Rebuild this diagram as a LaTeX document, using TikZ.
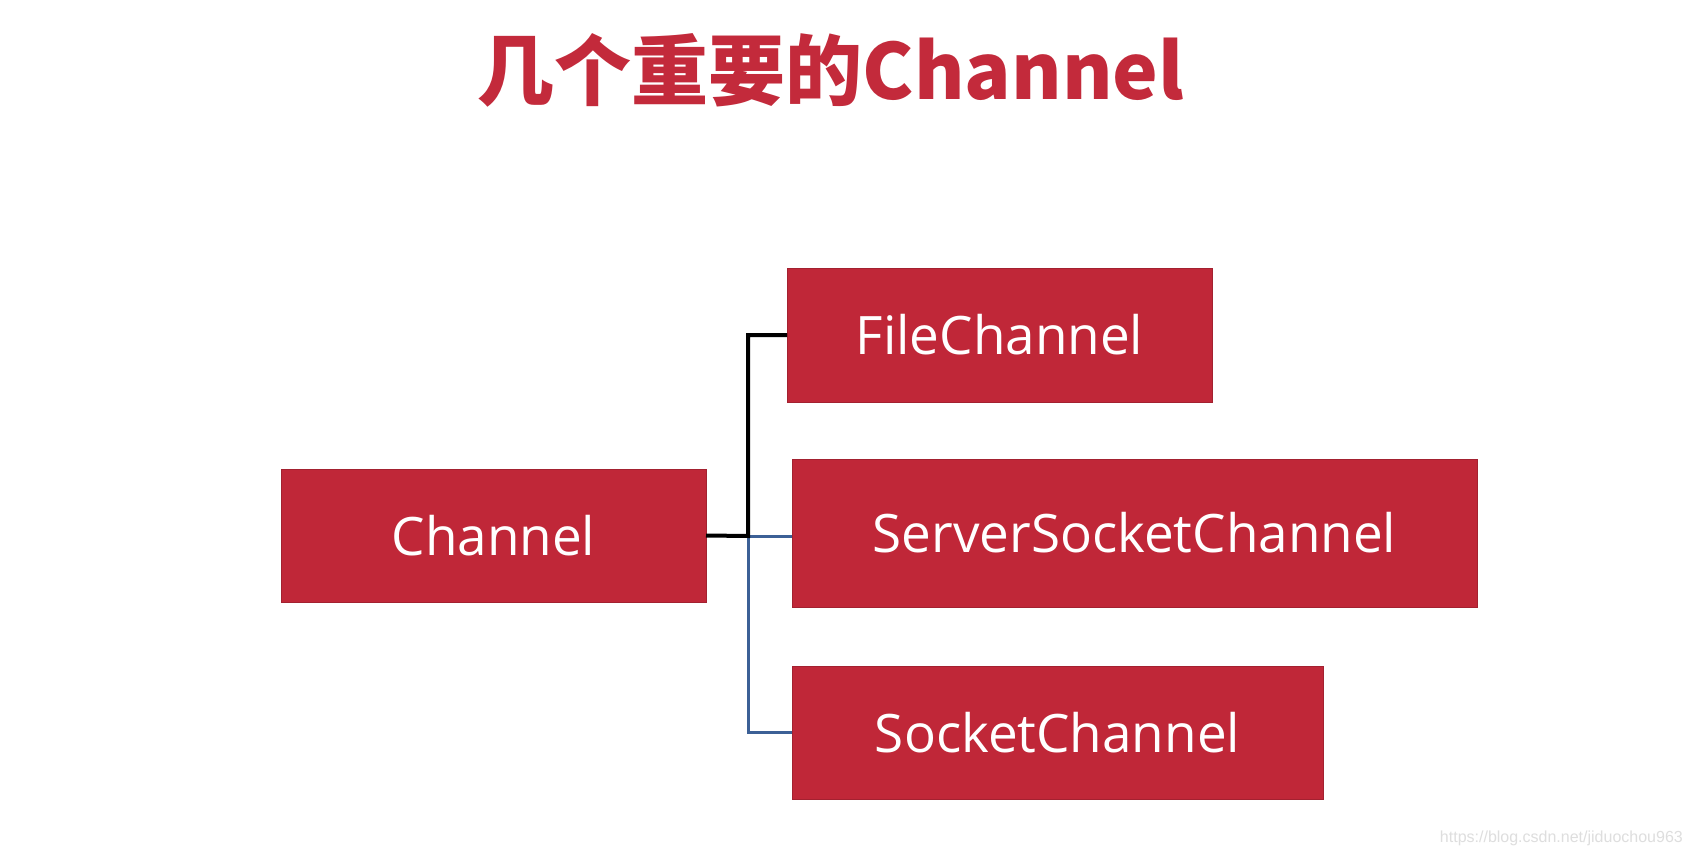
\documentclass[tikz,border=0pt]{standalone}
\usepackage{fontspec}
\setmainfont{Open Sans}
\newfontfamily\cjk{Noto Sans CJK SC}
\newfontfamily\urlfont{Liberation Sans}
\definecolor{boxred}{RGB}{192,39,56}
\definecolor{titlered}{RGB}{195,42,59}
\definecolor{linkblue}{RGB}{60,96,150}
\tikzset{
  box/.style={rectangle, fill=boxred, draw=boxred!85!black, line width=0.8pt, inner sep=0pt, outer sep=0pt,
    text=white, font=\fontsize{53}{60}\selectfont},
  blackline/.style={draw=black, line width=4pt},
  blueline/.style={draw=linkblue, line width=3pt},
}
\begin{document}
\begin{tikzpicture}[x=1pt,y=-1pt]
\useasboundingbox[fill=white] (0,0) rectangle (1691,856);
\node[inner sep=0pt, text=titlered, font=\cjk\bfseries\fontsize{77}{80}\selectfont] (title) at (831,70) {几个重要的Channel};
\node[box, minimum width=425pt, minimum height=133pt] (ch) at (493.5,535.5) {Channel};
\node[box, minimum width=425pt, minimum height=134pt] (fc) at (999.5,335) {FileChannel};
\node[box, minimum width=685pt, minimum height=148pt] (ssc) at (1134.5,533) {ServerSocketChannel};
\node[box, minimum width=531pt, minimum height=133pt] (sc) at (1057.5,732.5) {SocketChannel};
\coordinate (j) at (748,536);
\draw[blueline] (j) -- (ssc.west |- j);
\draw[blueline] (j) |- (sc.west);
\draw[blackline, line join=miter] (ch.east) -- (j) |- (fc.west);
\node[anchor=east, inner sep=0pt, text=black!13, font=\urlfont\fontsize{16}{18}\selectfont] (url) at (1683,838) {https://blog.csdn.net/jiduochou963};
\end{tikzpicture}
\end{document}
